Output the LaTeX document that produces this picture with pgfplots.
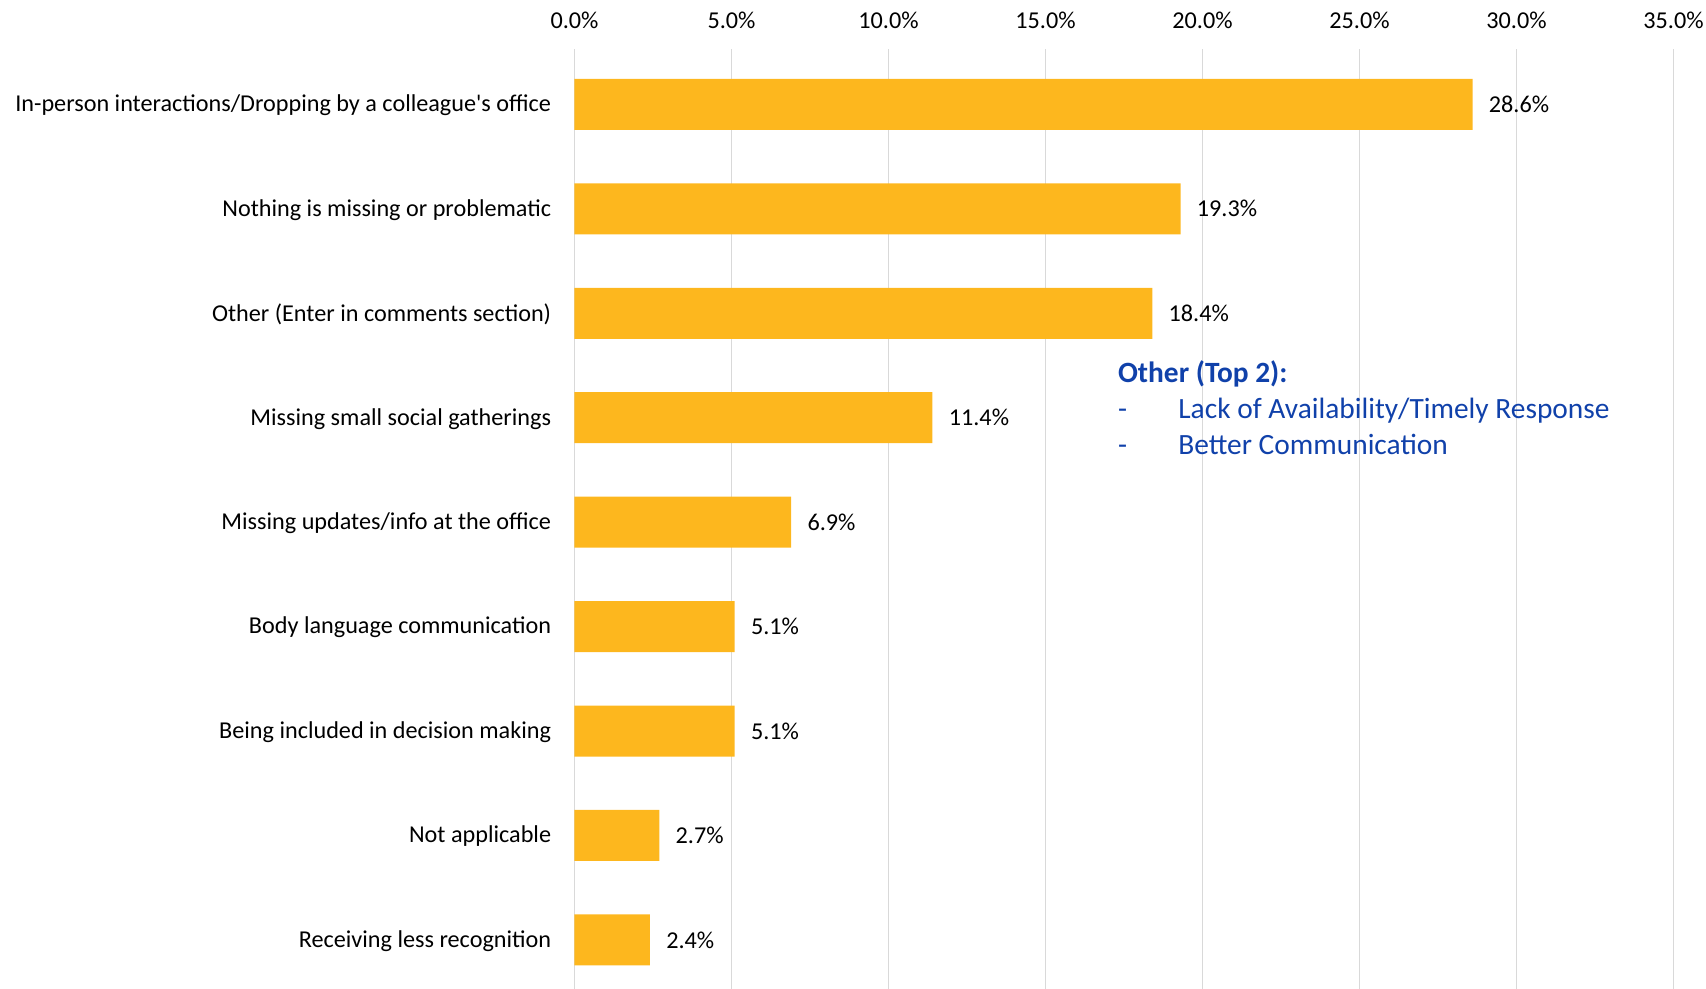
\documentclass[border=0pt]{standalone}
\usepackage{pgfplots}
\pgfplotsset{compat=1.18}
\usepackage{fontspec}
\setmainfont{Carlito}
\definecolor{barc}{RGB}{253,183,30}
\definecolor{gridc}{RGB}{217,217,217}
\definecolor{annc}{RGB}{16,65,170}
\begin{document}
\begin{tikzpicture}
\begin{axis}[
  scale only axis, width=549.5pt, height=470pt,
  xbar, bar width=25.5pt,
  xmin=0, xmax=35, ymin=-0.53, ymax=8.47, y dir=reverse,
  axis line style={draw=none},
  xtick={0,5,10,15,20,25,30,35},
  xticklabels={0.0\%,5.0\%,10.0\%,15.0\%,20.0\%,25.0\%,30.0\%,35.0\%},
  xticklabel pos=upper,
  xmajorgrids, grid style={gridc, line width=0.75pt},
  major tick length=0pt,
  ytick={0,1,2,3,4,5,6,7,8},
  yticklabels={In-person interactions/Dropping by a colleague\textquotesingle s office,
    Nothing is missing or problematic,
    Other (Enter in comments section),
    Missing small social gatherings,
    Missing updates/info at the office,
    Body language communication,
    Being included in decision making,
    Not applicable,
    Receiving less recognition},
  tick label style={font=\fontsize{12.1}{14}\selectfont, text=black},
  xticklabel style={anchor=base, inner sep=0pt, yshift=10.1pt},
  yticklabel style={anchor=east, inner sep=0pt, xshift=-11.5pt, yshift=-0.5pt},
  /pgf/number format/assume math mode=true,
  nodes near coords={\pgfmathprintnumber[fixed,fixed zerofill,precision=1,assume math mode=true]{\pgfplotspointmeta}\%},
  nodes near coords style={anchor=west, inner sep=0pt, xshift=8pt, font=\fontsize{12.1}{14}\selectfont, text=black},
  clip=false,
]
\addplot[fill=barc, draw=none] coordinates {
  (28.6,0) (19.3,1) (18.4,2) (11.4,3) (6.9,4) (5.1,5) (5.1,6) (2.7,7) (2.4,8)};
\node[anchor=west, inner sep=0pt, text=annc, font=\fontsize{14.7}{17}\selectfont\bfseries] at (axis cs:17.3,2.58) {Other (Top 2):};
\node[anchor=west, inner sep=0pt, text=annc, font=\fontsize{14.7}{17}\selectfont] at (axis cs:17.3,2.93) {\makebox[30.15pt][l]{-}Lack of Availability/Timely Response};
\node[anchor=west, inner sep=0pt, text=annc, font=\fontsize{14.7}{17}\selectfont] at (axis cs:17.3,3.26) {\makebox[30.15pt][l]{-}Better Communication};
\end{axis}
\pgfresetboundingbox
\path (current axis.south west) ++(-287.25pt,0pt) rectangle ++(853pt,494.5pt);
\end{tikzpicture}
\end{document}
